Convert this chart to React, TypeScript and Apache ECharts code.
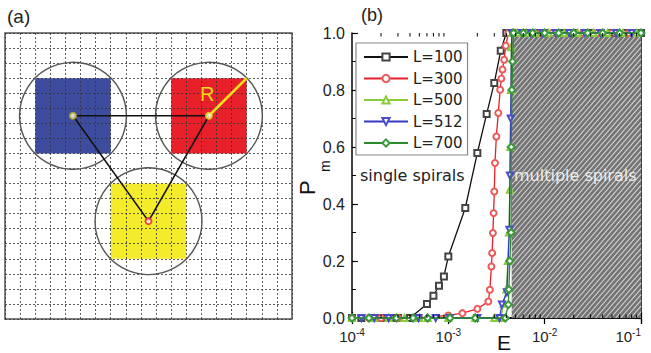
import React, { useEffect, useRef } from "react";
import * as echarts from "echarts";

// ---------- Panel (b) data ----------
const seriesNames = ["L=100", "L=300", "L=500", "L=512", "L=700"];

const l100: number[][] = [
  [1e-4, 0], [1.25e-4, 0], [1.6e-4, 0], [2e-4, 0], [2.5e-4, 0], [3e-4, 0], [4e-4, 0],
  [6e-4, 0.049], [7e-4, 0.078], [8e-4, 0.113], [9e-4, 0.146], [1e-3, 0.216],
  [1.5e-3, 0.386], [2e-3, 0.579], [2.5e-3, 0.716], [3e-3, 0.825], [3.5e-3, 0.938], [4e-3, 1],
  [5e-3, 1], [6e-3, 1], [8e-3, 1], [1e-2, 1], [1.5e-2, 1], [2e-2, 1], [3e-2, 1], [5e-2, 1], [7e-2, 1], [1e-1, 1],
];
const l300: number[][] = [
  [1e-4, 0], [1.5e-4, 0], [2e-4, 0], [3e-4, 0], [5e-4, 0], [1e-3, 0.009], [1.4e-3, 0.017],
  [2e-3, 0.032], [2.6e-3, 0.058], [2.7e-3, 0.099], [2.8e-3, 0.181], [2.85e-3, 0.228],
  [2.9e-3, 0.298], [2.95e-3, 0.368], [3e-3, 0.444], [3.05e-3, 0.544], [3.15e-3, 0.637],
  [3.3e-3, 0.719], [3.45e-3, 0.801], [3.55e-3, 0.84], [3.65e-3, 0.872], [3.8e-3, 0.906],
  [3.95e-3, 0.955], [4.2e-3, 1],
  [5.5e-3, 1], [7e-3, 1], [9e-3, 1], [1.2e-2, 1], [1.7e-2, 1], [2.5e-2, 1], [3.5e-2, 1], [5e-2, 1], [7.5e-2, 1],
];
const l500: number[][] = [
  [1e-4, 0], [1.7e-4, 0], [2.4e-4, 0], [3.5e-4, 0], [5e-4, 0], [6.1e-4, 0], [1e-3, 0], [1.9e-3, 0],
  [3e-3, 0], [3.5e-3, 0], [3.75e-3, 0.05], [4e-3, 0.1], [4.15e-3, 0.2], [4.25e-3, 0.3],
  [4.35e-3, 0.45], [4.4e-3, 0.6], [4.45e-3, 0.8], [4.5e-3, 0.95], [4.6e-3, 1],
  [5.2e-3, 1], [6.5e-3, 1], [8e-3, 1], [1.1e-2, 1], [1.6e-2, 1], [2.2e-2, 1], [3.2e-2, 1], [4.5e-2, 1], [6.5e-2, 1], [9e-2, 1],
];
const l512: number[][] = [
  [1.25e-4, 0], [1.7e-4, 0], [2.4e-4, 0], [4.9e-4, 0], [7.4e-4, 0], [1.04e-3, 0], [2e-3, 0],
  [3.4e-3, 0], [3.6e-3, 0.047], [4.05e-3, 0.09], [4.3e-3, 0.31], [4.36e-3, 0.5], [4.44e-3, 0.7], [4.55e-3, 1],
  [5.8e-3, 1], [7.2e-3, 1], [9.5e-3, 1], [1.3e-2, 1], [1.8e-2, 1], [2.6e-2, 1], [3.8e-2, 1], [5.5e-2, 1], [8e-2, 1],
];
const l700: number[][] = [
  [1e-4, 0], [1.5e-4, 0], [2.9e-4, 0], [4.3e-4, 0], [6.1e-4, 0], [1.04e-3, 0], [1.9e-3, 0],
  [3.9e-3, 0], [4.2e-3, 0.047], [4.25e-3, 0.1], [4.35e-3, 0.2], [4.48e-3, 0.3], [4.5e-3, 0.6],
  [4.57e-3, 0.8], [4.65e-3, 0.9], [4.75e-3, 1],
  [6e-3, 1], [7.5e-3, 1], [1e-2, 1], [1.4e-2, 1], [2e-2, 1], [2.8e-2, 1], [4e-2, 1], [6e-2, 1], [1e-1, 1],
];
const seriesData = [l100, l300, l500, l512, l700];

const minorTicksE = [
  2e-4, 3e-4, 4e-4, 5e-4, 6e-4, 7e-4, 8e-4, 9e-4,
  2e-3, 3e-3, 4e-3, 5e-3, 6e-3, 7e-3, 8e-3, 9e-3,
  2e-2, 3e-2, 4e-2, 5e-2, 6e-2, 7e-2, 8e-2, 9e-2,
];
const regionBounds = [[4.55e-3, 0, 0.1, 1]]; // multiple-spirals region: E from, P from, E to, P to

// ---------- Panel (a) data ----------
const latticeSize = 19;
const squareCenters = [[4.5, 5.5], [13.5, 5.5], [9.5, 12.5]];
const squareHalf = 2.5;
const circleRadius = 3.54;
const triangle = [[4.5, 5.5], [13.5, 5.5], [9.5, 12.5], [4.5, 5.5]];
const radiusLine = [[13.5, 5.5], [16, 3]];

// styles
const lineColors = ["#111111", "#e8202a", "#8acb3c", "#3838c0", "#2a8a2a"];
const markerColors = ["#444444", "#ee5a5a", "#8acb3c", "#4a4ad0", "#3a9a3a"];
const symbols = ["emptyRect", "emptyCircle", "emptyTriangle", "emptyTriangle", "emptyDiamond"];
const symbolRotations = [0, 0, 0, 180, 0];
const squareColors = ["#3d4c9e", "#e8202a", "#f4ec2a"];
const centerMarkerColors = ["#b8b020", "#e8d820", "#e02020"];

export default function App() {
  const ref = useRef<HTMLDivElement>(null);
  useEffect(() => {
    const chart = echarts.init(ref.current!, null, { renderer: "svg" });

    const lineSeries = seriesNames.map((name, i) => ({
      name,
      type: "line",
      xAxisIndex: 0,
      yAxisIndex: 0,
      data: seriesData[i],
      symbol: symbols[i],
      symbolRotate: symbolRotations[i],
      symbolSize: i === 4 ? 7 : 6,
      clip: false,
      z: 3 + i,
      lineStyle: { color: lineColors[i], width: 1.3 },
      itemStyle: { color: markerColors[i], borderWidth: 1 },
    }));

    const option: any = {
      animation: false,
      textStyle: { fontFamily: "Liberation Sans" },
      grid: [
        { left: 352, top: 33, width: 289, height: 285, outerBoundsMode: "none", containLabel: false },
        { left: 5, top: 33, width: 287, height: 286, outerBoundsMode: "none", containLabel: false, show: true, borderColor: "#555", borderWidth: 1.5, backgroundColor: "transparent" },
      ],
      legend: {
        data: seriesNames,
        orient: "vertical",
        left: 356,
        top: 43,
        padding: [6, 5, 4, 7],
        itemWidth: 44,
        itemHeight: 9,
        itemGap: 5.5,
        backgroundColor: "#fff",
        borderColor: "#888",
        borderWidth: 1.2,
        borderRadius: 0,
        textStyle: { fontFamily: "DejaVu Sans", fontSize: 15, color: "#222", lineHeight: 16 },
        z: 10,
      },
      xAxis: [
        {
          type: "log", logBase: 10, min: 1e-4, max: 0.1, gridIndex: 0, position: "bottom",
          axisLine: { lineStyle: { color: "#000", width: 1.5 } },
          axisTick: { inside: true, length: 6, lineStyle: { color: "#000", width: 1.2 } },
          splitLine: { show: false },
          axisLabel: {
            margin: 9, showMinLabel: true, showMaxLabel: true, alignMaxLabel: "right",
            formatter: (v: number) => `{b|10}{e|${Math.round(Math.log10(v))}}`,
            rich: {
              b: { fontSize: 15, color: "#222", lineHeight: 18, fontFamily: "Liberation Sans" },
              e: { fontSize: 10, color: "#222", lineHeight: 10, verticalAlign: "top", fontFamily: "Liberation Sans" },
            },
          },
        },
        {
          type: "log", logBase: 10, min: 1e-4, max: 0.1, gridIndex: 0, position: "top",
          axisLine: { lineStyle: { color: "#000", width: 1.5 } },
          axisTick: { inside: true, length: 6, lineStyle: { color: "#000", width: 1.2 } },
          splitLine: { show: false },
          axisLabel: { show: false },
        },
        {
          type: "value", min: 0, max: latticeSize, interval: 1, gridIndex: 1,
          axisLine: { show: false }, axisTick: { show: false }, axisLabel: { show: false },
          splitLine: { show: true, lineStyle: { type: [2, 2], color: "#333", width: 0.8 } },
        },
      ],
      yAxis: [
        {
          type: "value", min: 0, max: 1, interval: 0.2, gridIndex: 0, position: "left",
          axisLine: { show: true, lineStyle: { color: "#000", width: 1.5 } },
          axisTick: { show: true, inside: true, length: 6, lineStyle: { color: "#000", width: 1.2 } },
          minorTick: { show: true, splitNumber: 2, length: 4, lineStyle: { color: "#000", width: 1 } },
          splitLine: { show: false },
          axisLabel: { margin: 7, fontSize: 16, color: "#222", formatter: (v: number) => v.toFixed(1) },
        },
        {
          type: "value", min: 0, max: 1, interval: 0.2, gridIndex: 0, position: "right",
          axisLine: { show: true, lineStyle: { color: "#000", width: 1.5 } },
          axisTick: { show: true, inside: true, length: 6, lineStyle: { color: "#000", width: 1.2 } },
          minorTick: { show: true, splitNumber: 2, length: 4, lineStyle: { color: "#000", width: 1 } },
          splitLine: { show: false },
          axisLabel: { show: false },
        },
        {
          type: "value", min: 0, max: latticeSize, interval: 1, gridIndex: 1, inverse: true,
          axisLine: { show: false }, axisTick: { show: false }, axisLabel: { show: false },
          splitLine: { show: true, lineStyle: { type: [2, 2], color: "#333", width: 0.8 } },
        },
      ],
      series: [
        // hatched region
        {
          type: "custom", xAxisIndex: 0, yAxisIndex: 0, silent: true, z: 1, clip: false,
          data: regionBounds,
          encode: { x: [0, 2], y: [1, 3] },
          renderItem: (params: any, api: any) => {
            const tl = api.coord([api.value(0), api.value(3)]);
            const br = api.coord([api.value(2), api.value(1)]);
            const x0 = tl[0], y0 = tl[1], x1 = br[0], y1 = br[1];
            const children: any[] = [
              { type: "rect", shape: { x: x0, y: y0, width: x1 - x0, height: y1 - y0 }, style: { fill: "#747474" } },
            ];
            const s = 1.15;
            const h = 5;
            for (let b = y0 + 2; b <= y1 + s * (x1 - x0); b += s * h) {
              let xa = x0 + (b - y1) / s;
              let xb = x0 + (b - y0) / s;
              xa = Math.max(xa, x0);
              xb = Math.min(xb, x1);
              if (xb <= xa) continue;
              children.push({
                type: "line",
                shape: { x1: xa, y1: b - s * (xa - x0), x2: xb, y2: b - s * (xb - x0) },
                style: { stroke: "#d4d4d4", lineWidth: 1.1 },
              });
            }
            return { type: "group", children };
          },
        },
        ...lineSeries,
        // log minor ticks, bottom and top
        {
          type: "custom", xAxisIndex: 0, yAxisIndex: 0, silent: true, z: 12, clip: false,
          data: minorTicksE.map((e) => [e, 0]),
          encode: { x: 0, y: 1 },
          renderItem: (params: any, api: any) => {
            const e = api.value(0);
            const pb = api.coord([e, 0]);
            const pt = api.coord([e, 1]);
            return {
              type: "group",
              children: [
                { type: "line", shape: { x1: pb[0], y1: pb[1], x2: pb[0], y2: pb[1] - 3.5 }, style: { stroke: "#000", lineWidth: 1 } },
                { type: "line", shape: { x1: pt[0], y1: pt[1], x2: pt[0], y2: pt[1] + 3.5 }, style: { stroke: "#000", lineWidth: 1 } },
              ],
            };
          },
        },
        // Panel (a): squares (below lattice lines)
        {
          type: "custom", xAxisIndex: 2, yAxisIndex: 2, silent: true, z: -1,
          data: squareCenters,
          encode: { x: 0, y: 1 },
          renderItem: (params: any, api: any) => {
            const cx = api.value(0), cy = api.value(1);
            const a = api.coord([cx - squareHalf, cy - squareHalf]);
            const b = api.coord([cx + squareHalf, cy + squareHalf]);
            return {
              type: "rect",
              shape: { x: Math.min(a[0], b[0]), y: Math.min(a[1], b[1]), width: Math.abs(b[0] - a[0]), height: Math.abs(b[1] - a[1]) },
              style: { fill: squareColors[params.dataIndex] },
            };
          },
        },
        // circles
        {
          type: "custom", xAxisIndex: 2, yAxisIndex: 2, silent: true, z: 3, clip: false,
          data: squareCenters,
          encode: { x: 0, y: 1 },
          renderItem: (params: any, api: any) => {
            const c = api.coord([api.value(0), api.value(1)]);
            const r = api.size([circleRadius, 0])[0];
            return { type: "circle", shape: { cx: c[0], cy: c[1], r }, style: { fill: "none", stroke: "#555", lineWidth: 1.4 } };
          },
        },
        // triangle connecting centers
        {
          type: "line", xAxisIndex: 2, yAxisIndex: 2, data: triangle, symbol: "none", z: 4, silent: true,
          lineStyle: { color: "#111", width: 1.6 },
        },
        // radius line
        {
          type: "line", xAxisIndex: 2, yAxisIndex: 2, data: radiusLine, symbol: "none", z: 5, silent: true,
          lineStyle: { color: "#f2e11c", width: 2.6 },
        },
        // center markers
        {
          type: "scatter", xAxisIndex: 2, yAxisIndex: 2, symbol: "emptyCircle", symbolSize: 6, z: 6, silent: true,
          data: squareCenters.map((c, i) => ({ value: c, itemStyle: { color: centerMarkerColors[i], borderWidth: 1.2 } })),
        },
      ],
      graphic: [
        { type: "text", left: 7, top: 7, style: { text: "(a)", fontSize: 19, fill: "#222", fontFamily: "Liberation Sans" } },
        { type: "text", left: 361, top: 6, style: { text: "(b)", fontSize: 18, fill: "#222", fontFamily: "Liberation Sans" } },
        { type: "text", x: 200, y: 84, style: { text: "R", fontSize: 20, fill: "#f0dc1a", fontFamily: "Liberation Sans" }, z: 10 },
        { type: "text", x: 360, y: 167, style: { text: "single spirals", fontSize: 16, fill: "#222", fontFamily: "DejaVu Sans" }, z: 20 },
        { type: "text", x: 514, y: 167, style: { text: "multiple spirals", fontSize: 16, fill: "#ececec", fontFamily: "DejaVu Sans" }, z: 20 },
        { type: "text", x: 497, y: 332, style: { text: "E", fontSize: 21, fill: "#111", fontFamily: "Liberation Sans" }, z: 20 },
        { type: "text", x: 296, y: 195, rotation: Math.PI / 2, style: { text: "P", fontSize: 22, fill: "#111", fontFamily: "Liberation Sans" }, z: 20 },
        { type: "text", x: 318, y: 172, rotation: Math.PI / 2, style: { text: "m", fontSize: 14, fill: "#111", fontFamily: "Liberation Sans" }, z: 20 },
      ],
    };

    chart.setOption(option);
    return () => chart.dispose();
  }, []);
  return <div ref={ref} style={{ position: "absolute", left: 0, top: 0, width: 651, height: 353, background: "#fff" }} />;
}
